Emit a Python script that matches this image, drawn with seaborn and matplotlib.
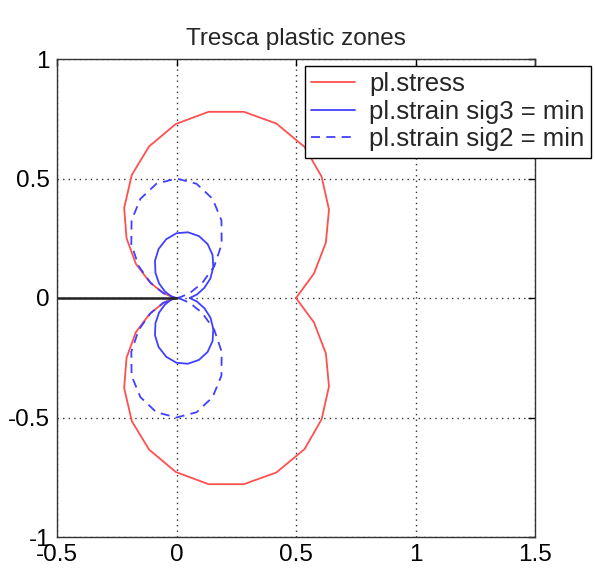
import pandas as pd
import seaborn as sns
import matplotlib.pyplot as plt

# plastic zone outlines (upper half, then lower half)
red_x_up = [0.5, 0.575, 0.625, 0.638, 0.607, 0.536, 0.418, 0.282, 0.134, -0.003,
            -0.115, -0.187, -0.219, -0.209, -0.17, -0.112, -0.056, -0.015, 0.0]
red_y_up = [0.0, 0.102, 0.232, 0.37, 0.508, 0.632, 0.73, 0.779, 0.779, 0.728,
            0.634, 0.515, 0.377, 0.25, 0.143, 0.066, 0.021, 0.003, 0.0]
red_x_lo = [-0.015, -0.056, -0.112, -0.17, -0.209, -0.219, -0.187, -0.115, -0.003,
            0.134, 0.282, 0.418, 0.536, 0.607, 0.638, 0.625, 0.575, 0.5]
red_y_lo = [-0.003, -0.021, -0.066, -0.143, -0.25, -0.377, -0.515, -0.634, -0.728,
            -0.779, -0.779, -0.73, -0.632, -0.508, -0.37, -0.232, -0.102, 0.0]

sig3_x_up = [0.056, 0.086, 0.117, 0.142, 0.154, 0.151, 0.13, 0.094, 0.048, 0.0,
             -0.043, -0.075, -0.09, -0.088, -0.073, -0.049, -0.025, -0.007, 0.0]
sig3_y_up = [0.0, 0.015, 0.043, 0.082, 0.129, 0.18, 0.226, 0.259, 0.275, 0.271,
             0.246, 0.205, 0.156, 0.105, 0.061, 0.028, 0.009, 0.001, 0.0]
sig3_x_lo = [-0.007, -0.025, -0.049, -0.073, -0.088, -0.09, -0.075, -0.043, 0.0,
             0.048, 0.094, 0.13, 0.151, 0.154, 0.142, 0.117, 0.086, 0.056]
sig3_y_lo = [-0.001, -0.009, -0.028, -0.061, -0.105, -0.156, -0.205, -0.246, -0.271,
             -0.275, -0.259, -0.226, -0.18, -0.129, -0.082, -0.043, -0.015, 0.0]

sig2_x_up = [0.0, 0.015, 0.055, 0.108, 0.158, 0.189, 0.188, 0.151, 0.084, 0.0,
             -0.084, -0.151, -0.188, -0.189, -0.158, -0.108, -0.055, -0.015, 0.0]
sig2_y_up = [0.0, 0.003, 0.02, 0.063, 0.133, 0.225, 0.325, 0.415, 0.478, 0.5,
             0.478, 0.415, 0.325, 0.225, 0.133, 0.063, 0.02, 0.003, 0.0]
sig2_x_lo = [-0.015, -0.055, -0.108, -0.158, -0.189, -0.188, -0.151, -0.084, 0.0,
             0.084, 0.151, 0.188, 0.189, 0.158, 0.108, 0.055, 0.015, 0.0]
sig2_y_lo = [-0.003, -0.02, -0.063, -0.133, -0.225, -0.325, -0.415, -0.478, -0.5,
             -0.478, -0.415, -0.325, -0.225, -0.133, -0.063, -0.02, -0.003, 0.0]

crack_x = [-0.5, 0.0]
crack_y = [0.0, 0.0]

ticks_x = [-0.5, 0, 0.5, 1, 1.5]
ticks_y = [-1, -0.5, 0, 0.5, 1]
tick_labels_x = ['-0.5', '0', '0.5', '1', '1.5']
tick_labels_y = ['-1', '-0.5', '0', '0.5', '1']

#%%
sns.set_style('white')
plt.rcParams['font.family'] = ['Liberation Sans', 'DejaVu Sans']

df_red = pd.DataFrame({'x': red_x_up + red_x_lo, 'y': red_y_up + red_y_lo})
df_sig3 = pd.DataFrame({'x': sig3_x_up + sig3_x_lo, 'y': sig3_y_up + sig3_y_lo})
df_sig2 = pd.DataFrame({'x': sig2_x_up + sig2_x_lo, 'y': sig2_y_up + sig2_y_lo})

fig = plt.figure(figsize=(5.95, 5.72), dpi=100)
ax = fig.add_axes([57/595, 1 - 537/572, 478/595, 478/572])

sns.lineplot(data=df_red, x='x', y='y', sort=False, estimator=None,
             color='#ff5050', lw=1.3, label='pl.stress', ax=ax)
sns.lineplot(data=df_sig3, x='x', y='y', sort=False, estimator=None,
             color='#4040ff', lw=1.3, label='pl.strain sig3 = min', ax=ax)
sns.lineplot(data=df_sig2, x='x', y='y', sort=False, estimator=None,
             color='#4040ff', lw=1.3, dashes=(5, 3.5), label='pl.strain sig2 = min', ax=ax)
ax.plot(crack_x, crack_y, color='#222222', lw=1.8)

ax.set_xlim(-0.5, 1.5)
ax.set_ylim(-1, 1)
ax.set_xticks(ticks_x)
ax.set_xticklabels(tick_labels_x)
ax.set_yticks(ticks_y)
ax.set_yticklabels(tick_labels_y)
ax.set_xlabel('')
ax.set_ylabel('')

ax.grid(True, color='#333333', linestyle=(0, (1, 3)), lw=1)
ax.tick_params(direction='in', length=5, width=1, labelsize=17.5, pad=5,
               top=True, right=True, colors='black')
for s in ax.spines.values():
    s.set_color('#333333')
    s.set_linewidth(1)

ax.set_title('Tresca plastic zones', fontsize=17.5, pad=10)

ax.legend(loc='upper left', bbox_to_anchor=(305/595, 1 - 66/572),
          bbox_transform=fig.transFigure, fontsize=18.5, frameon=True, fancybox=False,
          edgecolor='black', framealpha=1, borderaxespad=0, borderpad=0.25,
          labelspacing=0.13, handlelength=1.7, handletextpad=0.55)

plt.savefig('out.png', dpi=100)
